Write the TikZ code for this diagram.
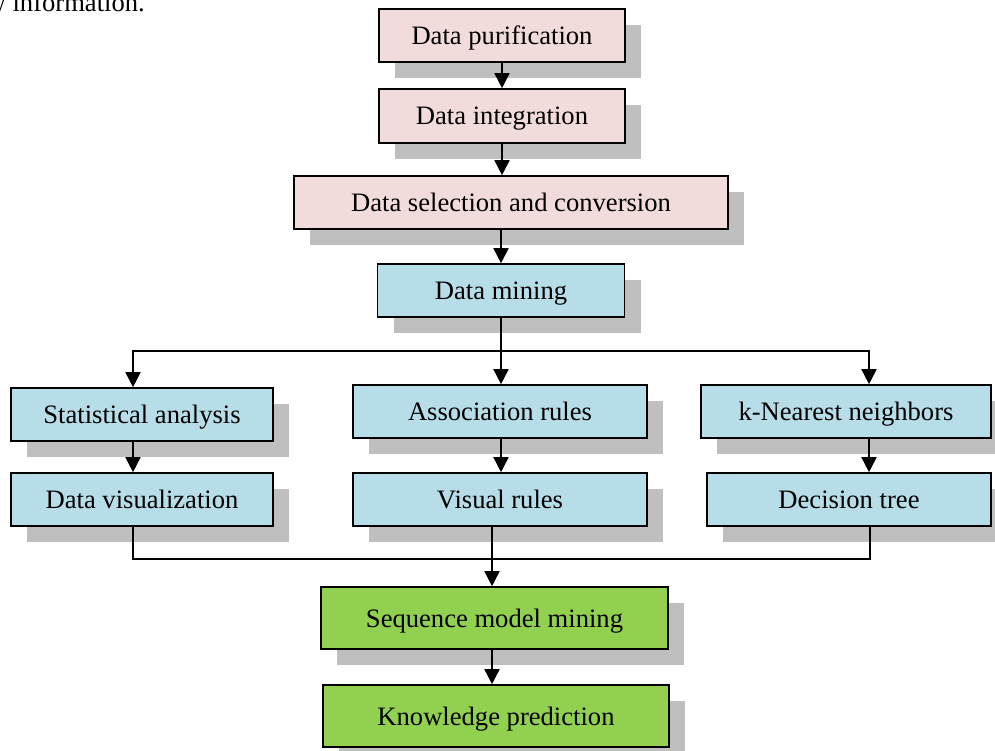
\documentclass[tikz,border=0pt]{standalone}
\usepackage{fontspec}
\setmainfont{Liberation Serif}
\usetikzlibrary{shadows,arrows.meta}
\definecolor{pinkfill}{HTML}{F2DCDB}
\definecolor{bluefill}{HTML}{B7DDE8}
\definecolor{greenfill}{HTML}{92D050}
\definecolor{shadowgray}{HTML}{BFBFBF}
\tikzset{
  box/.style={draw=black, line width=1.6pt, inner sep=0pt, font=\fontsize{26.6}{30}\selectfont,
    text height=18pt, text depth=0pt,
    drop shadow={shadow xshift=16pt, shadow yshift=-16pt, opacity=1, fill=shadowgray, draw=none}},
  pinkbox/.style={box, fill=pinkfill},
  bluebox/.style={box, fill=bluefill},
  greenbox/.style={box, fill=greenfill},
  arr/.style={line width=1.6pt, -{Triangle[width=15pt,length=15pt]}},
  ln/.style={line width=1.6pt}
}
\begin{document}
\begin{tikzpicture}[x=1pt,y=-1pt]
\useasboundingbox (0,0) rectangle (995,751);
\node[anchor=base east, font=\fontsize{26.6}{30}\selectfont, inner sep=0pt] (cut) at (145,12) {w information.};
\node[pinkbox, minimum width=246pt, minimum height=53pt] (pur) at (502,35.5) {Data purification};
\node[pinkbox, minimum width=246pt, minimum height=54pt] (int) at (502,116) {Data integration};
\node[pinkbox, minimum width=434pt, minimum height=53pt] (sel) at (511,202.5) {Data selection and conversion};
\node[bluebox, minimum width=247pt, minimum height=53pt] (min) at (501,290.5) {Data mining};
\node[bluebox, minimum width=262pt, minimum height=53pt] (sta) at (142,414.5) {Statistical analysis};
\node[bluebox, minimum width=294pt, minimum height=53pt] (ass) at (500,411.5) {Association rules};
\node[bluebox, minimum width=290pt, minimum height=53pt] (knn) at (846,411.5) {k-Nearest neighbors};
\node[bluebox, minimum width=262pt, minimum height=53pt] (vis) at (142,499.5) {Data visualization};
\node[bluebox, minimum width=294pt, minimum height=53pt] (vr) at (500,499.5) {Visual rules};
\node[bluebox, minimum width=284pt, minimum height=53pt] (dt) at (849,499.5) {Decision tree};
\node[greenbox, minimum width=347pt, minimum height=62pt] (seq) at (494.5,618) {Sequence model mining};
\node[greenbox, minimum width=346pt, minimum height=62pt] (kp) at (496,716) {Knowledge prediction};
\coordinate (bL) at (133,351);
\coordinate (bR) at (869,351);
\coordinate (cL) at (133,559);
\coordinate (cR) at (870,559);
\coordinate (cM) at (492,559);
\draw[arr] (pur.south) -- (int.north);
\draw[arr] (int.south) -- (int.south |- sel.north);
\draw[arr] (sel.south -| min.south) -- (min.north);
\draw[arr] (min.south) -- (min.south |- ass.north);
\draw[arr] (min.south |- bL) -| (sta.north -| bL);
\draw[arr] (min.south |- bR) -| (knn.north -| bR);
\draw[arr] (sta.south -| bL) -- (vis.north -| bL);
\draw[arr] (ass.south -| min.south) -- (vr.north -| min.south);
\draw[arr] (knn.south -| bR) -- (dt.north -| bR);
\draw[ln] (vis.south -| cL) -- (cL) -- (cR) -- (dt.south -| cR);
\draw[arr] (vr.south -| cM) -- (seq.north -| cM);
\draw[arr] (seq.south -| cM) -- (kp.north -| cM);
\end{tikzpicture}
\end{document}
